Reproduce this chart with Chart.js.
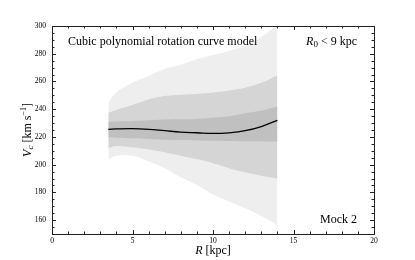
<!DOCTYPE html>
<html>
<head>
<meta charset="utf-8">
<script src="https://cdn.jsdelivr.net/npm/chart.js@4"></script>
<style>
  html, body { margin: 0; padding: 0; background: #fff; }
  canvas { display: block; }
</style>
</head>
<body>
<canvas id="chart" width="415" height="260"></canvas>
<script>
const SERIF = "'Liberation Serif', 'DejaVu Serif', serif";
const COLOR_FRAME = "#222";

// galactocentric radius [kpc]
const radii = [3.5, 4, 5, 6, 7, 8, 9, 10, 11, 12, 13, 14];
// best-fit curve
const meanVc = [225.5, 225.8, 226, 225.5, 224.5, 223.5, 223, 222.5, 223, 224.5, 227.5, 232];
// inner band
const innerLo = [219.7, 219.5, 219, 218.5, 218, 217.8, 217.5, 217.3, 217, 216.8, 216.7, 216.6];
const innerHi = [231, 231.2, 231.5, 232, 232.5, 232.7, 233, 234, 235, 237, 239, 242];
// middle band
const middleLo = [212, 213.5, 212.5, 211, 209, 206.5, 204, 201, 197.5, 194.5, 192, 190];
const middleHi = [237.5, 239.5, 243, 247, 249.5, 250.5, 251, 252, 253.5, 255.5, 259, 264.5];
// outer band
const outerLo = [204, 206.5, 206.5, 202.5, 197.5, 191, 185.5, 178.5, 173.5, 168.5, 163, 156.5];
const outerHi = [245, 252, 259, 264, 269, 272, 276, 279, 282, 286, 292, 301];

const xTicks = [0, 5, 10, 15, 20];
const yTicks = [160, 180, 200, 220, 240, 260, 280, 300];

const pts = (ys) => radii.map((r, i) => ({ x: r, y: ys[i] }));

function band(ys, color, fillTo) {
  return {
    data: pts(ys),
    borderWidth: 0,
    pointRadius: 0,
    backgroundColor: color,
    fill: fillTo === undefined ? false : fillTo,
    tension: 0.4,
  };
}

// inward minor/major ticks on all four sides, plus the frame
const frameTicks = {
  id: "frameTicks",
  afterDatasetsDraw(chart) {
    const { ctx, chartArea: a, scales: { x, y } } = chart;
    ctx.save();
    ctx.strokeStyle = COLOR_FRAME;
    ctx.lineWidth = 1;
    ctx.beginPath();
    for (let v = x.min; v <= x.max; v += 1) {
      const px = Math.round(x.getPixelForValue(v)) + 0.5;
      const len = v % 5 === 0 ? 4 : 2.5;
      ctx.moveTo(px, a.bottom); ctx.lineTo(px, a.bottom - len);
      ctx.moveTo(px, a.top); ctx.lineTo(px, a.top + len);
    }
    for (let v = y.min; v <= y.max; v += 5) {
      const py = Math.round(y.getPixelForValue(v)) + 0.5;
      const len = v % 20 === 0 ? 4 : 2.5;
      ctx.moveTo(a.left, py); ctx.lineTo(a.left + len, py);
      ctx.moveTo(a.right, py); ctx.lineTo(a.right - len, py);
    }
    ctx.stroke();
    ctx.strokeRect(Math.round(a.left) + 0.5, Math.round(a.top) + 0.5,
      Math.round(a.right - a.left), Math.round(a.bottom - a.top));
    ctx.restore();
  },
};

// annotations and axis titles
const labels = {
  id: "labels",
  afterDraw(chart) {
    const { ctx, chartArea: a } = chart;
    ctx.save();
    ctx.fillStyle = "#000";
    ctx.textBaseline = "middle";

    ctx.font = `12px ${SERIF}`;
    ctx.textAlign = "left";
    ctx.fillText("Cubic polynomial rotation curve model", a.left + 16, 42);

    // R_0 < 9 kpc, right aligned
    let right = a.right - 17;
    ctx.textAlign = "left";
    const parts = [
      { t: "R", f: `italic 12px ${SERIF}`, dy: 0 },
      { t: "0", f: `9px ${SERIF}`, dy: 3 },
      { t: " < 9 kpc", f: `12px ${SERIF}`, dy: 0 },
    ];
    let w = 0;
    parts.forEach((p) => { ctx.font = p.f; w += ctx.measureText(p.t).width; });
    let cx = right - w;
    parts.forEach((p) => { ctx.font = p.f; ctx.fillText(p.t, cx, 42 + p.dy); cx += ctx.measureText(p.t).width; });

    ctx.font = `12px ${SERIF}`;
    ctx.textAlign = "right";
    ctx.fillText("Mock 2", right, 220);

    // x title: R [kpc]
    const xParts = [
      { t: "R", f: `italic 12px ${SERIF}` },
      { t: " [kpc]", f: `12px ${SERIF}` },
    ];
    w = 0;
    xParts.forEach((p) => { ctx.font = p.f; w += ctx.measureText(p.t).width; });
    cx = (a.left + a.right) / 2 - w / 2;
    ctx.textAlign = "left";
    xParts.forEach((p) => { ctx.font = p.f; ctx.fillText(p.t, cx, 251); cx += ctx.measureText(p.t).width; });

    // y title: V_c [km s^-1]
    ctx.translate(28, (a.top + a.bottom) / 2);
    ctx.rotate(-Math.PI / 2);
    const yParts = [
      { t: "V", f: `italic 12px ${SERIF}`, dy: 0 },
      { t: "c", f: `italic 9px ${SERIF}`, dy: 3 },
      { t: " [km s", f: `12px ${SERIF}`, dy: 0 },
      { t: "\u22121", f: `8px ${SERIF}`, dy: -4 },
      { t: "]", f: `12px ${SERIF}`, dy: 0 },
    ];
    w = 0;
    yParts.forEach((p) => { ctx.font = p.f; w += ctx.measureText(p.t).width; });
    cx = -w / 2;
    yParts.forEach((p) => { ctx.font = p.f; ctx.fillText(p.t, cx, p.dy); cx += ctx.measureText(p.t).width; });
    ctx.restore();
  },
};

new Chart(document.getElementById("chart"), {
  type: "line",
  data: {
    datasets: [
      {
        data: pts(meanVc),
        borderColor: "#000",
        borderWidth: 1.3,
        pointRadius: 0,
        fill: false,
        tension: 0.4,
      },
      band(innerHi, "#c0c0c0", 2),
      band(innerLo, "#c0c0c0"),
      band(middleHi, "#d5d5d5", 4),
      band(middleLo, "#d5d5d5"),
      band(outerHi, "#eeeeee", 6),
      band(outerLo, "#eeeeee"),
    ],
  },
  options: {
    responsive: false,
    animation: false,
    layout: { padding: { top: 26, right: 41, left: 0, bottom: 0 } },
    scales: {
      x: {
        type: "linear",
        min: 0,
        max: 20,
        afterBuildTicks: (s) => { s.ticks = xTicks.map((v) => ({ value: v })); },
        afterFit: (s) => { s.height = 26; },
        grid: { display: false, drawTicks: false },
        border: { display: false },
        ticks: { color: "#000", padding: 3, maxRotation: 0, font: { family: SERIF, size: 7.5 } },
      },
      y: {
        min: 150,
        max: 300,
        afterBuildTicks: (s) => { s.ticks = yTicks.map((v) => ({ value: v })); },
        afterFit: (s) => { s.width = 52; },
        grid: { display: false, drawTicks: false },
        border: { display: false },
        ticks: { color: "#000", padding: 6, font: { family: SERIF, size: 7.5 } },
      },
    },
    plugins: {
      legend: { display: false },
      tooltip: { enabled: false },
    },
  },
  plugins: [frameTicks, labels],
});
</script>
</body>
</html>
